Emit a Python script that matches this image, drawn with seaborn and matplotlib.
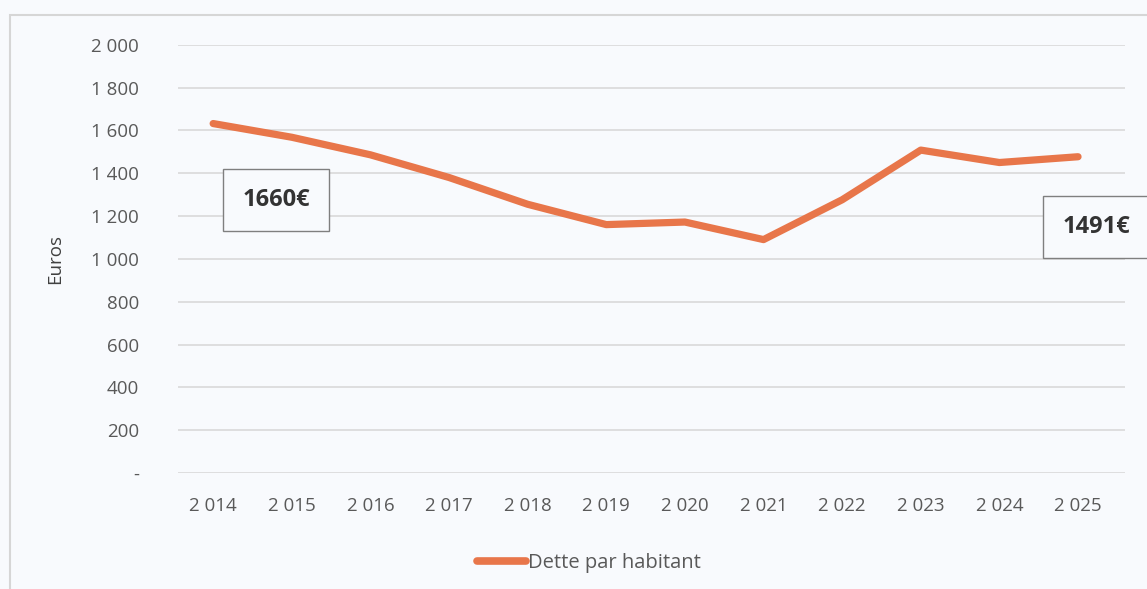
import matplotlib
matplotlib.use('Agg')
import matplotlib.pyplot as plt
import matplotlib.ticker as mticker
from matplotlib.patches import Rectangle
import seaborn as sns
import pandas as pd

# Data
years = [2014, 2015, 2016, 2017, 2018, 2019, 2020, 2021, 2022, 2023, 2024, 2025]
dette = [1632, 1568, 1486, 1380, 1255, 1160, 1172, 1090, 1276, 1508, 1450, 1477]
year_labels = ['2 014', '2 015', '2 016', '2 017', '2 018', '2 019',
               '2 020', '2 021', '2 022', '2 023', '2 024', '2 025']
y_ticks = [0, 200, 400, 600, 800, 1000, 1200, 1400, 1600, 1800, 2000]
label_start = '1660€'
label_end = '1491€'
series_name = 'Dette par habitant'

sns.set_theme(style='white')
plt.rcParams['font.family'] = ['Open Sans', 'DejaVu Sans']

bg = '#f8fafd'
text_grey = '#595959'
orange = '#e8764a'

df = pd.DataFrame({'pos': range(len(years)), 'dette': dette})

fig = plt.figure(figsize=(11.47, 5.89), dpi=100, facecolor=bg)
ax = fig.add_axes([0.155, 0.197, 0.826, 0.727], facecolor=bg)

# outer chart border
fig.patches.append(Rectangle((10 / 1147, -0.01), 1.2, 1 - 15 / 589 + 0.01,
                             transform=fig.transFigure, fill=False,
                             edgecolor='#d6d6d6', linewidth=1.5))

sns.lineplot(data=df, x='pos', y='dette', ax=ax, color=orange, linewidth=5.2,
             solid_capstyle='round', solid_joinstyle='round', label=series_name)

ax.set_xlim(-0.45, 11.6)
ax.set_ylim(0, 2000)
ax.set_yticks(y_ticks)
ax.yaxis.set_major_formatter(mticker.FuncFormatter(
    lambda v, p: '-' if v == 0 else f'{int(v):,}'.replace(',', ' ')))
ax.set_xticks(range(len(years)))
ax.set_xticklabels(year_labels)
ax.tick_params(axis='both', length=0, labelsize=13.5, colors=text_grey)
ax.tick_params(axis='y', pad=28)
ax.tick_params(axis='x', pad=17)
ax.grid(axis='y', color='#d9d9d9', linewidth=1.2)
for s in ax.spines.values():
    s.set_visible(False)
ax.set_xlabel('')
ax.set_ylabel('Euros', fontsize=13.5, color='#404040')
ax.yaxis.set_label_coords(-0.12, 0.5)

box = dict(boxstyle='square,pad=0.8', facecolor=bg, edgecolor='#7f7f7f', linewidth=1)
ax.text(0.8, 1275, label_start, fontsize=17, fontweight='bold', color='#333333',
        ha='center', va='center', bbox=box)
ax.text(10.8, 1150, label_end, fontsize=17, fontweight='bold', color='#333333',
        ha='left', va='center', bbox=box, clip_on=False)

leg = ax.legend(loc='upper center', bbox_to_anchor=(0.434, -0.145), frameon=False,
                fontsize=14.5, handlelength=2.4, handletextpad=0.1)
for t in leg.get_texts():
    t.set_color(text_grey)
for h in leg.get_lines():
    h.set_linewidth(5.5)

fig.savefig('out.png', dpi=100, facecolor=bg)
